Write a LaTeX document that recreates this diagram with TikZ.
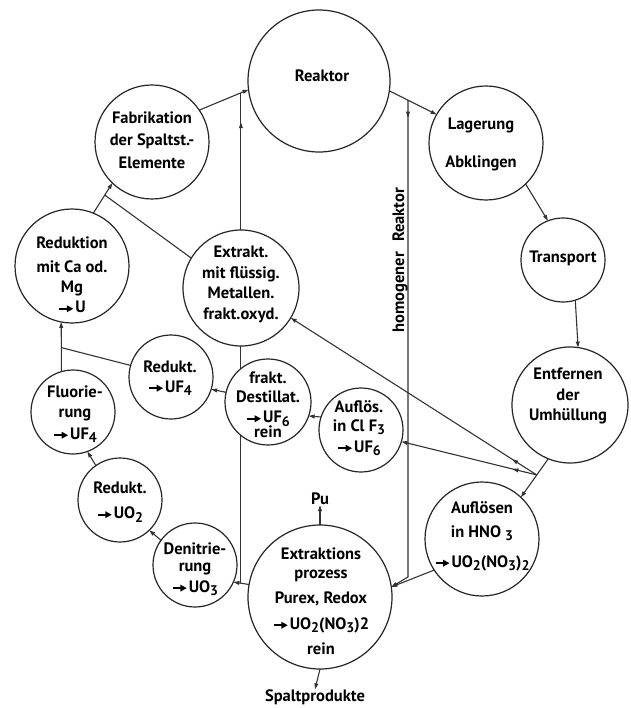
\documentclass[tikz,border=0pt]{standalone}
\usepackage{fontspec}
\setmainfont{PT Sans}
\usetikzlibrary{arrows.meta,calc,decorations.markings,backgrounds}
\newcommand\ar{\tikz[baseline=-4pt,x=1pt,y=1pt]\draw[line width=2pt,-{Triangle[length=6.5pt,width=6.5pt]}] (0,0)--(14,0);\hspace{1pt}}
\newcommand\lo[1]{\raisebox{-0.4ex}{\fontsize{14}{14}\selectfont #1}}
\tikzset{
 conn/.style={draw=black!80, line width=1.1pt},
 tip/.style={-{Triangle[length=6pt,width=3.8pt]}},
 circ/.style={circle, draw=black!85, line width=1.2pt, fill=white, inner sep=0pt, outer sep=0pt},
 bigc/.style={circ, minimum size=114pt},
 smallc/.style={circ, minimum size=84pt},
 txt/.style={font=\fontsize{16.5}{20}\selectfont\bfseries, align=center, inner sep=0pt},
 midtip/.style={postaction=decorate, decoration={markings, mark=at position #1 with {\arrow{Triangle[length=6pt,width=3.8pt]}}}},
}
\begin{document}
\begin{tikzpicture}[x=1pt,y=-1pt]
\useasboundingbox (0,0) rectangle (630,708);
% circles
\node[circ, minimum size=142pt] (rea) at (319,81) {};
\node[bigc] (fab) at (152,142) {};
\node[bigc] (lag) at (486,143) {};
\node[smallc] (trn) at (563,260) {};
\node[bigc, minimum size=116pt] (ent) at (570,405) {};
\node[bigc] (hno) at (482,539) {};
\node[circ, minimum size=144pt] (epr) at (320,597) {};
\node[smallc] (den) at (195,565) {};
\node[smallc] (red2) at (120,500) {};
\node[smallc] (flu) at (73,412) {};
\node[bigc] (redca) at (72,266) {};
\node[bigc, minimum size=116pt] (ext) at (241,288) {};
\node[smallc] (ruf4) at (171,377) {};
\node[smallc, minimum size=86pt] (fd) at (268,402) {};
\node[smallc] (clf) at (361,430) {};
% texts
\node[txt] (rea-t) at (322,76) {Reaktor};
\node[txt] (fab-t) at (152,140) {Fabrikation\\[2pt]der Spaltst.-\\[3pt]Elemente};
\node[txt] (lag-t) at (481,144) {Lagerung\\[18pt]Abklingen};
\node[txt] (trn-t) at (563,258) {Transport};
\node[txt] (ent-t) at (568,396) {Entfernen\\[1pt]der\\Umhüllung};
\node[txt] (hno-t) at (482,536) {Auflösen\\[4pt]in HNO \lo{3}\\[10pt]\ar UO\lo{2}(NO\lo{3})\lo{2}};
\node[txt] (epr-t) at (321,601) {Extraktions\\[-1pt]prozess\\[5pt]Purex, Redox\\[6pt]\ar UO\lo{2}(NO\lo{3})2\\[5pt]rein};
\node[txt] (den-t) at (195,569) {Denitrie-\\[-3pt]rung\\[1pt]\ar UO\lo{3}};
\node[txt] (red2-t) at (120,502) {Redukt.\\[5pt]\ar UO\lo{2}};
\node[txt] (flu-t) at (75,414) {Fluorie-\\rung\\[2pt]\ar UF\lo{4}};
\node[txt] (redca-t) at (72,275) {Reduktion\\[4pt]mit Ca od.\\Mg\\\ar U};
\node[txt] (ext-t) at (241,284) {Extrakt.\\[1pt]mit flüssig.\\Metallen.\\[1pt]frakt.oxyd.};
\node[txt] (ruf4-t) at (170,378) {Redukt.\\\ar UF\lo{4}};
\node[txt] (fd-t) at (268,405) {frakt.\\[-1pt]Destillat.\\\ar UF\lo{6}\\[-5pt]rein};
\node[txt] (clf-t) at (359,428) {Auflös.\\[-1pt]in Cl F\lo{3}\\[1pt]\ar UF\lo{6}};
\node[txt, rotate=90] (hom) at (400,260) {homogener\hspace{10pt}Reaktor};
\node[txt] (pu) at (320,499) {Pu};
\node[txt] (spp) at (315,697) {Spaltprodukte};
\begin{pgfonlayer}{background}
\fill[white] (0,0) rectangle (630,708);
% top
\draw[conn,tip] (fab.34) -- (rea.187);
\coordinate (j1) at ($(fab.34)!0.848!(rea.187)$);
\coordinate (j7) at ($(epr.170)!0.52!(den.-24)$);
\draw[conn,tip] (epr.170) -- (den.-24);
\draw[conn,midtip=0.94] (j7) -- (j7 |- j1);
\draw[conn,tip] (rea.-8) -- (lag.150);
\coordinate (j2) at ($(rea.-8)!0.395!(lag.150)$);
\coordinate (j6) at ($(j2 |- epr.8)+(0,-10)$);
\draw[conn,tip,midtip=0.035] (j2) -- (j6) -- (epr.8);
\draw[conn,tip] (hno.213) -- (epr.8);
% right
\draw[conn,tip] (lag.-46) -- (trn.111);
\draw[conn,tip] (trn.-73) -- (ent.82);
\coordinate (j4) at ($(ent.248)!0.42!(hno.47)$);
\draw[conn,tip] (ent.248) -- (hno.47);
\draw[conn,tip,midtip=0.18] (j4) -- (clf.-16);
\draw[conn,tip,midtip=0.1] (j4) -- (ext.-31);
% middle / left
\draw[conn,tip] (clf.162) -- (fd.-19);
\draw[conn,tip] (fd.167) -- (ruf4.-17);
\coordinate (j3) at ($(flu.106)+(0,-24)$);
\draw[conn,tip] (flu.106) -- (j3) -- (redca.259);
\draw[conn] (ruf4.164) -- (j3);
\draw[conn,tip] (red2.125) -- (flu.-70);
\draw[conn,tip] (den.144) -- (red2.-46);
\draw[conn,tip] (redca.68) -- (fab.226);
\coordinate (j5) at ($(redca.68)!0.6!(fab.226)$);
\draw[conn] (ext.149) -- (j5);
% Pu, Spaltprodukte
\draw[conn,tip] (epr.north) -- (pu.south);
\draw[conn,tip] (epr.south) -- (spp.north);
\end{pgfonlayer}
\end{tikzpicture}
\end{document}
